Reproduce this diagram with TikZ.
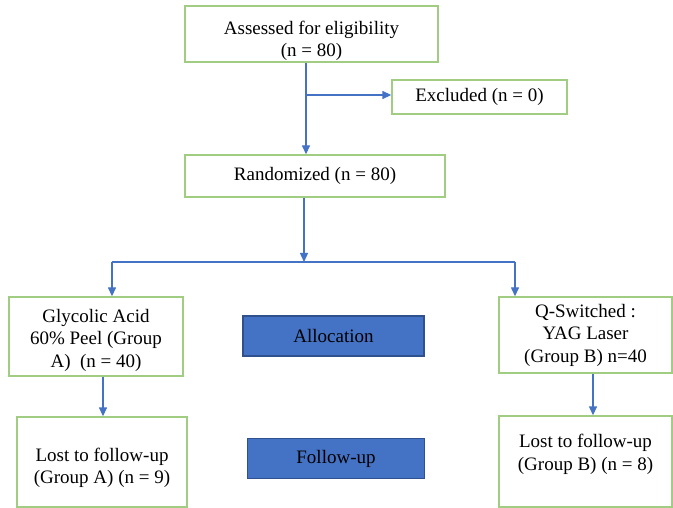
\documentclass[tikz,border=0pt]{standalone}
\usepackage{fontspec}
\setmainfont{Liberation Serif}
\usepackage{xcolor}
\usetikzlibrary{arrows.meta}
\definecolor{boxgreen}{RGB}{160,205,130}
\definecolor{stageblue}{RGB}{68,114,196}
\definecolor{stageedge}{RGB}{47,82,143}
\definecolor{linkblue}{RGB}{68,114,196}
\tikzstyle{everynode}=[font=\fontsize{19}{22.5}\selectfont,inner sep=0pt,align=center]
\tikzstyle{box}=[everynode,draw=boxgreen,line width=1.4pt]
\tikzstyle{stage}=[everynode,draw=stageedge,fill=stageblue,line width=1.2pt]
\tikzstyle{link}=[draw=linkblue,line width=1.4pt,-{Triangle[length=9pt,width=8pt]}]

\begin{document}
\begin{tikzpicture}[x=1pt,y=-1pt]
    \useasboundingbox (0,0) rectangle (673,508);
    % boxes
    \node[box,minimum width=253pt,minimum height=56pt] (assess) at (311.5,34) {\rule{0pt}{27pt}Assessed for eligibility\\(n = 80)};
    \node[box,minimum width=175pt,minimum height=34pt] (excl) at (479.5,97) {Excluded (n = 0)};
    \node[box,minimum width=260pt,minimum height=42pt] (rand) at (315,176) {Randomized (n = 80)};
    \node[box,minimum width=174pt,minimum height=79pt] (groupa) at (96,336.5) {\rule{0pt}{21pt}Glycolic Acid\\60\% Peel (Group\\A)\ \ (n = 40)};
    \node[box,minimum width=173pt,minimum height=76pt] (groupb) at (585.5,335) {Q-Switched :\\YAG Laser\\(Group B) n=40};
    \node[box,minimum width=170pt,minimum height=90pt] (lossa) at (102,462) {\rule{0pt}{25pt}Lost to follow-up\\(Group A) (n = 9)};
    \node[box,minimum width=173pt,minimum height=91pt] (lossb) at (585.5,461.5) {Lost to follow-up\\\rule[-18pt]{0pt}{18pt}(Group B) (n = 8)};
    \node[stage,minimum width=181pt,minimum height=40pt] (alloc) at (333.5,336) {Allocation};
    \node[stage,minimum width=177pt,minimum height=40pt] (follow) at (336,458.5) {Follow-up};
    % connectors
    \coordinate (split1) at (306,95);
    \coordinate (split2) at (304,262);
    \coordinate (ga) at (112,262);
    \coordinate (gb) at (515,262);
    \draw[link,-] (split1 |- assess.south) -- (split1);
    \draw[link] (split1) -- (split1 -| excl.west);
    \draw[link] (split1) -- (split1 |- rand.north);
    \draw[link] (split2 |- rand.south) -- (split2);
    \draw[link,-] (ga) -- (gb);
    \draw[link] (ga) -- (ga |- groupa.north);
    \draw[link] (gb) -- (gb |- groupb.north);
    \draw[link] ([xshift=7pt]groupa.south) -- ([xshift=7pt]groupa.south |- lossa.north);
    \draw[link] ([xshift=7.5pt]groupb.south) -- ([xshift=7.5pt]groupb.south |- lossb.north);
\end{tikzpicture}
\end{document}
